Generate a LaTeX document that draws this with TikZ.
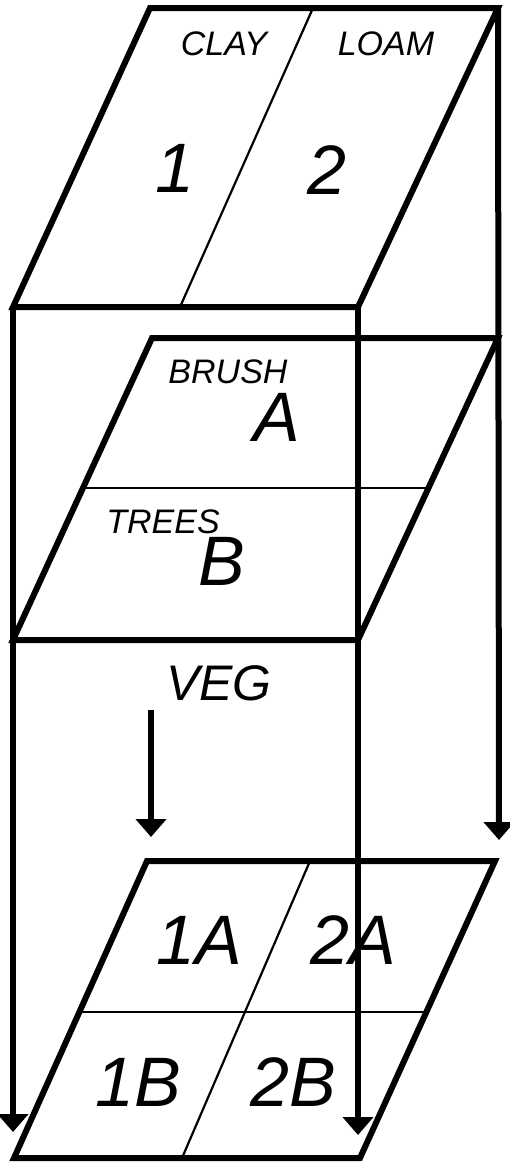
\documentclass[tikz,border=0pt]{standalone}
\usepackage{fontspec}
\setmainfont{Liberation Sans}
\usetikzlibrary{arrows.meta,calc}
\tikzset{
  rim/.style={line width=6pt},
  divider/.style={line width=2.2pt},
  arr/.style={-{Triangle[length=18pt,width=30pt]},line width=6pt},
  cellnum/.style={font=\fontsize{70}{70}\selectfont\itshape,inner sep=0pt},
  vegtag/.style={font=\fontsize{50}{50}\selectfont\itshape,inner sep=0pt},
  soiltag/.style={font=\fontsize{34}{34}\selectfont\itshape,inner sep=0pt},
}
\begin{document}
\begin{tikzpicture}[x=1pt,y=-1pt]
  \useasboundingbox (0,0) rectangle (510,1168);
  % soil layer
  \coordinate (s-tl) at (150,8);   \coordinate (s-tr) at (498,8);
  \coordinate (s-br) at (358,307); \coordinate (s-bl) at (13,307);
  \coordinate (s-tm) at (313,8);   \coordinate (s-bm) at (180,307);
  \draw[rim] (s-tl) -- (s-tr) -- (s-br) -- (s-bl) -- cycle;
  \draw[divider] (s-tm) -- (s-bm);
  \node[soiltag] (clay) at (224,44) {CLAY};
  \node[soiltag] (loam) at (386,44) {LOAM};
  \node[cellnum] (one) at (175,168) {1};
  \node[cellnum] (two) at (327,170) {2};
  % veg layer
  \coordinate (v-tl) at (152,338); \coordinate (v-tr) at (498,338);
  \coordinate (v-br) at (358,640); \coordinate (v-bl) at (13,640);
  \coordinate (v-ml) at (83,488);  \coordinate (v-mr) at (428,488);
  \draw[rim] (v-tl) -- (v-tr) -- (v-br) -- (v-bl) -- cycle;
  \draw[divider] (v-ml) -- (v-mr);
  \node[soiltag] (brush) at (228,372) {BRUSH};
  \node[cellnum] (a) at (277,417) {A};
  \node[soiltag] (trees) at (163,522) {TREES};
  \node[cellnum] (b) at (222,561) {B};
  % front box
  \draw[rim] (s-bl) -- (v-bl) -- (v-br);
  \node[vegtag] (veg) at (219,683) {VEG};
  \coordinate (veg-tail) at (151,710);
  \coordinate (veg-tip) at (151,837);
  \draw[arr] (veg-tail) -- (veg-tip);
  % overlay layer
  \coordinate (o-tl) at (147,861); \coordinate (o-tr) at (495,861);
  \coordinate (o-br) at (360,1158); \coordinate (o-bl) at (14,1158);
  \coordinate (o-tm) at (310,861); \coordinate (o-bm) at (182,1158);
  \coordinate (o-ml) at (82,1012); \coordinate (o-mr) at (427,1012);
  \draw[rim] (o-tl) -- (o-tr) -- (o-br) -- (o-bl) -- cycle;
  \draw[divider] (o-tm) -- (o-bm);
  \draw[divider] (o-ml) -- (o-mr);
  \node[cellnum] (oneA) at (199,940) {1A};
  \node[cellnum] (twoA) at (353,940) {2A};
  \node[cellnum] (oneB) at (138,1082) {1B};
  \node[cellnum] (twoB) at (293,1082) {2B};
  % drop lines
  \coordinate (l-tip) at (13,1132);
  \coordinate (m-tip) at (358,1135);
  \coordinate (r-tip) at (499,840);
  \draw[arr] (s-bl) -- (l-tip);
  \draw[arr] (s-br) -- (m-tip);
  \draw[arr] (s-tr) -- (r-tip);
\end{tikzpicture}
\end{document}
